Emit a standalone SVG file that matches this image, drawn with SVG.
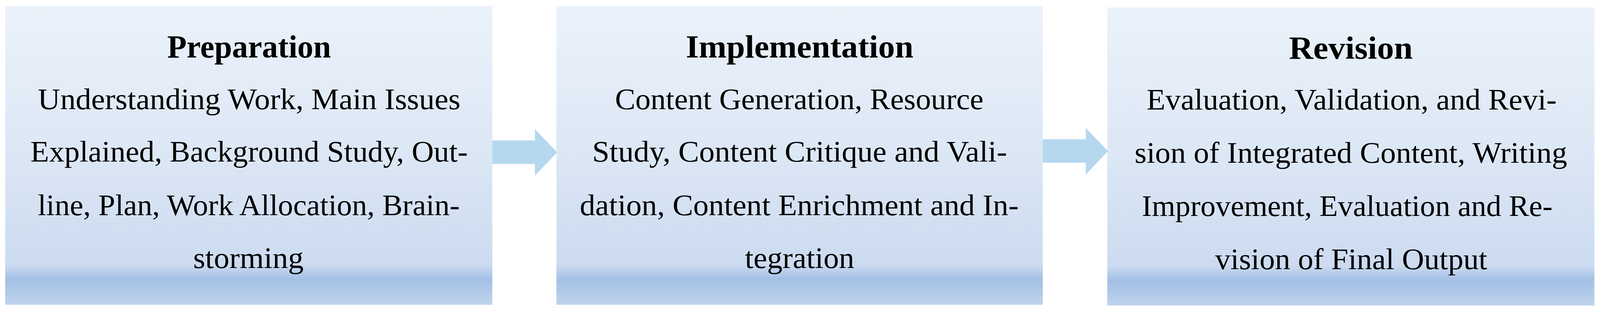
<svg xmlns="http://www.w3.org/2000/svg" width="4316" height="795" viewBox="0 0 4316 795">
  <defs>
    <linearGradient id="boxFill" x1="0" y1="0" x2="0" y2="1">
      <stop offset="0" stop-color="#EBF2FA"/>
      <stop offset="0.5" stop-color="#DCE7F5"/>
      <stop offset="0.866" stop-color="#CCDBF0"/>
      <stop offset="0.916" stop-color="#A3C0E5"/>
      <stop offset="1" stop-color="#BFD3ED"/>
    </linearGradient>
    <style>
      .box { fill: url(#boxFill); }
      .arrow { fill: #B5D8EF; }
      .title { font-family: "Liberation Serif", "Times New Roman", serif; font-weight: bold; font-size: 82px; fill: #000; text-anchor: middle; }
      .body { font-family: "Liberation Serif", "Times New Roman", serif; font-size: 76px; fill: #000; text-anchor: middle; }
    </style>
  </defs>
  <rect width="4316" height="795" fill="#FFFFFF"/>

  <g id="diagram" transform="scale(0.949 1)">
    <g id="node-preparation">
      <rect class="box" x="14" y="15" width="1314" height="764"/>
      <text class="title" x="672" y="147" textLength="442" lengthAdjust="spacingAndGlyphs">Preparation</text>
      <text class="body" x="672" y="279" textLength="1140" lengthAdjust="spacingAndGlyphs">Understanding Work, Main Issues</text>
      <text class="body" x="672" y="413" textLength="1180" lengthAdjust="spacingAndGlyphs">Explained, Background Study, Out-</text>
      <text class="body" x="671" y="550" textLength="1138" lengthAdjust="spacingAndGlyphs">line, Plan, Work Allocation, Brain-</text>
      <text class="body" x="670" y="685" textLength="298" lengthAdjust="spacingAndGlyphs">storming</text>
    </g>

    <g id="node-implementation">
      <rect class="box" x="1501" y="15" width="1312" height="764"/>
      <text class="title" x="2157" y="147" textLength="614" lengthAdjust="spacingAndGlyphs">Implementation</text>
      <text class="body" x="2156" y="279" textLength="994" lengthAdjust="spacingAndGlyphs">Content Generation, Resource</text>
      <text class="body" x="2157" y="413" textLength="1119" lengthAdjust="spacingAndGlyphs">Study, Content Critique and Vali-</text>
      <text class="body" x="2156" y="550" textLength="1184" lengthAdjust="spacingAndGlyphs">dation, Content Enrichment and In-</text>
      <text class="body" x="2157" y="685" textLength="295" lengthAdjust="spacingAndGlyphs">tegration</text>
    </g>

    <g id="node-revision">
      <rect class="box" x="2987" y="19" width="1314" height="762"/>
      <text class="title" x="3644" y="150" textLength="334" lengthAdjust="spacingAndGlyphs">Revision</text>
      <text class="body" x="3646" y="280" textLength="1106" lengthAdjust="spacingAndGlyphs">Evaluation, Validation, and Revi-</text>
      <text class="body" x="3644" y="416" textLength="1167" lengthAdjust="spacingAndGlyphs">sion of Integrated Content, Writing</text>
      <text class="body" x="3634" y="552" textLength="1108" lengthAdjust="spacingAndGlyphs">Improvement, Evaluation and Re-</text>
      <text class="body" x="3645" y="688" textLength="734" lengthAdjust="spacingAndGlyphs">vision of Final Output</text>
    </g>

    <g id="connectors">
      <polygon class="arrow" points="1328,359 1443,359 1443,330 1503,389.5 1443,449 1443,419 1328,419"/>
      <polygon class="arrow" points="2813,356 2929,356 2929,327 2989,386.5 2929,446 2929,416 2813,416"/>
    </g>
  </g>
</svg>
